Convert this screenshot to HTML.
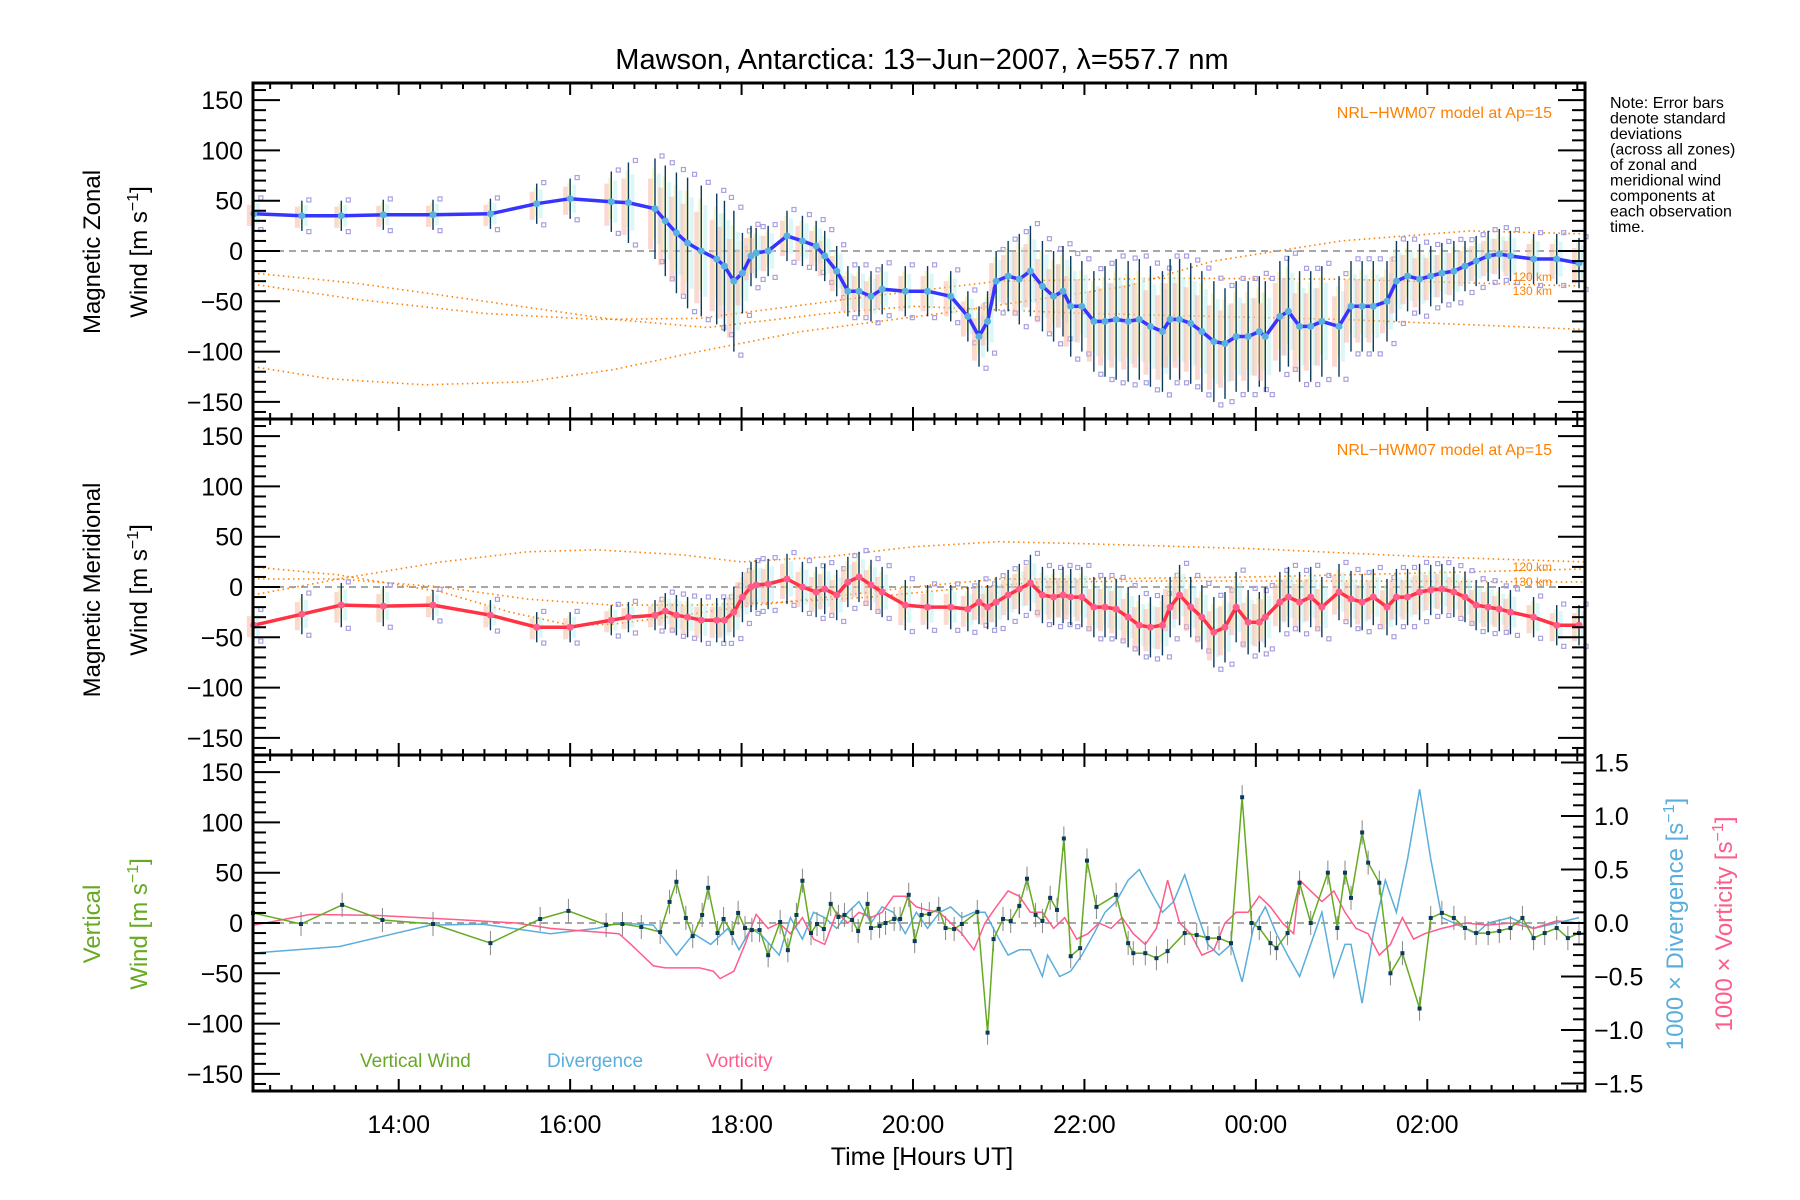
<!DOCTYPE html>
<html><head><meta charset="utf-8"><style>
html,body{margin:0;padding:0;background:#fff;}
svg{display:block;font-family:"Liberation Sans",sans-serif;}
</style></head><body>
<svg id="chart" width="1800" height="1200" viewBox="0 0 1800 1200" xmlns="http://www.w3.org/2000/svg">
<rect width="1800" height="1200" fill="#fff"/>
<text x="922" y="69" font-size="29" text-anchor="middle" fill="#000">Mawson, Antarctica: 13−Jun−2007, λ=557.7 nm</text>
<g id="plots"></g>
<text transform="translate(100,252) rotate(-90)" font-size="24" text-anchor="middle">Magnetic Zonal</text>
<text transform="translate(147,252) rotate(-90)" font-size="24" text-anchor="middle">Wind [m s<tspan dy="-9" font-size="16">−1</tspan><tspan dy="9">]</tspan></text>
<text transform="translate(100,590) rotate(-90)" font-size="24" text-anchor="middle">Magnetic Meridional</text>
<text transform="translate(147,590) rotate(-90)" font-size="24" text-anchor="middle">Wind [m s<tspan dy="-9" font-size="16">−1</tspan><tspan dy="9">]</tspan></text>
<text transform="translate(100,924) rotate(-90)" font-size="24" text-anchor="middle" fill="#66aa22">Vertical</text>
<text transform="translate(147,924) rotate(-90)" font-size="24" text-anchor="middle" fill="#66aa22">Wind [m s<tspan dy="-9" font-size="16">−1</tspan><tspan dy="9">]</tspan></text>
<text transform="translate(1683,924) rotate(-90)" font-size="24" text-anchor="middle" fill="#5aaedc">1000 × Divergence [s<tspan dy="-9" font-size="16">−1</tspan><tspan dy="9">]</tspan></text>
<text transform="translate(1732,924) rotate(-90)" font-size="24" text-anchor="middle" fill="#ff5c8a">1000 × Vorticity [s<tspan dy="-9" font-size="16">−1</tspan><tspan dy="9">]</tspan></text>
<text x="922" y="1165" font-size="25" text-anchor="middle">Time [Hours UT]</text>
<g font-size="16" fill="#000">
<text x="1610" y="108">Note: Error bars</text>
<text x="1610" y="123.5">denote standard</text>
<text x="1610" y="139">deviations</text>
<text x="1610" y="154.5">(across all zones)</text>
<text x="1610" y="170">of zonal and</text>
<text x="1610" y="185.5">meridional wind</text>
<text x="1610" y="201">components at</text>
<text x="1610" y="216.5">each observation</text>
<text x="1610" y="232">time.</text>
</g>
<text x="1552" y="118" font-size="16" text-anchor="end" fill="#ff8000">NRL−HWM07 model at Ap=15</text>
<text x="1552" y="455" font-size="16" text-anchor="end" fill="#ff8000">NRL−HWM07 model at Ap=15</text>
<text x="1552" y="281" font-size="12" text-anchor="end" fill="#ff8000">120 km</text>
<text x="1552" y="295" font-size="12" text-anchor="end" fill="#ff8000">130 km</text>
<text x="1552" y="571" font-size="12" text-anchor="end" fill="#ff8000">120 km</text>
<text x="1552" y="586" font-size="12" text-anchor="end" fill="#ff8000">130 km</text>
<text x="360" y="1067" font-size="19" fill="#66aa22">Vertical Wind</text>
<text x="547" y="1067" font-size="19" fill="#5aaedc">Divergence</text>
<text x="706" y="1067" font-size="19" fill="#ff5c8a">Vorticity</text>
</svg>
<script>
const windTimes=[12.31,12.87,13.33,13.82,14.40,15.07,15.61,16.00,16.48,16.68,16.99,17.11,17.24,17.37,17.53,17.71,17.80,17.91,18.01,18.11,18.17,18.31,18.53,18.71,18.87,18.97,19.11,19.24,19.37,19.51,19.64,19.91,20.17,20.44,20.64,20.77,20.87,20.97,21.11,21.24,21.37,21.51,21.64,21.75,21.84,21.97,22.11,22.24,22.37,22.51,22.64,22.77,22.91,23.00,23.11,23.24,23.37,23.51,23.64,23.77,23.91,24.04,24.11,24.28,24.38,24.51,24.64,24.77,24.97,25.11,25.24,25.37,25.53,25.64,25.77,25.91,26.04,26.17,26.31,26.44,26.57,26.71,26.84,26.97,27.24,27.51,27.77];
const zonalValues=[37,35,35,36,36,37,47,52,49,48,42,30,18,8,0,-8,-15,-30,-22,-5,-2,0,15,10,5,-5,-20,-40,-40,-45,-38,-40,-40,-45,-65,-85,-70,-30,-25,-28,-20,-35,-45,-40,-55,-55,-70,-70,-68,-70,-68,-75,-80,-68,-68,-72,-80,-90,-92,-85,-85,-80,-85,-65,-60,-75,-75,-70,-75,-55,-55,-55,-50,-30,-25,-28,-25,-22,-20,-15,-10,-5,-3,-5,-8,-8,-12];
const zonalErrors=[15,15,15,15,15,15,20,20,30,40,50,55,60,65,65,65,65,70,40,30,25,25,25,25,25,25,25,25,25,25,25,25,25,25,25,30,30,30,35,45,45,45,45,45,50,45,50,55,60,60,60,60,60,60,60,60,60,60,55,55,55,55,55,55,55,55,55,55,50,45,45,45,40,40,35,35,30,30,30,25,25,25,25,25,25,25,25];
const meridValues=[-38,-27,-18,-19,-18,-28,-40,-40,-33,-30,-28,-24,-28,-30,-33,-33,-33,-25,-10,0,2,3,8,0,-5,-2,-8,5,10,2,-5,-18,-20,-20,-22,-15,-20,-15,-8,-2,4,-8,-10,-8,-10,-10,-20,-20,-22,-30,-38,-40,-38,-20,-8,-20,-30,-45,-40,-20,-35,-35,-30,-15,-10,-15,-10,-20,-5,-12,-15,-10,-20,-10,-10,-5,-3,-2,-5,-10,-18,-20,-22,-25,-30,-38,-38];
const meridErrors=[15,20,22,20,15,15,15,15,15,15,15,18,20,20,22,22,22,25,25,25,25,25,25,25,25,25,25,25,25,25,25,25,22,22,22,22,22,25,25,25,28,28,28,28,28,30,30,30,30,30,30,30,30,30,30,30,32,35,35,35,32,30,30,30,30,30,30,30,28,28,28,28,28,28,28,28,25,25,25,25,25,25,22,22,20,20,20];
const zModel1T=[12.3,13.5,15,16.5,17.6,19,20,22,25,27.84];
const zModel1V=[-22,-32,-50,-68,-76,-62,-55,-62,-68,-78];
const zModel2T=[12.3,13.5,15,16.3,17.5,19.5,21,23,25,27.84];
const zModel2V=[-33,-48,-62,-68,-67,-45,-30,-27,-28,-35];
const zModel3T=[12.3,13.2,14.3,15.5,16.5,17.5,18.7,20.5,22.5,23.5,25,26.5,27.84];
const zModel3V=[-115,-127,-133,-130,-118,-100,-80,-60,-35,-10,10,20,17];
const mModel1T=[12.3,13.3,14.5,15.3,16,16.5,17.3,18,19,20,21,22,24,26,27.84];
const mModel1V=[20,12,-5,-25,-38,-37,-28,-20,-10,0,8,8,10,14,18];
const mModel2T=[12.3,13.3,14.5,15.5,16.5,17.5,18.5,19.5,20.5,21.5,23,25,27.84];
const mModel2V=[8,8,0,-12,-18,-18,-15,-10,-2,5,6,6,5];
const mModel3T=[12.3,13.3,14.5,15.5,16.3,17.3,18,19,20,21,22,24,26,27.84];
const mModel3V=[-8,8,25,35,37,32,25,30,40,45,43,38,30,25];
const vertTimes=[12.3,12.86,13.34,13.81,14.40,15.07,15.65,15.98,16.42,16.61,16.83,17.05,17.16,17.24,17.35,17.43,17.54,17.61,17.72,17.79,17.89,17.96,18.04,18.12,18.21,18.31,18.45,18.54,18.64,18.71,18.81,18.88,18.96,19.04,19.13,19.20,19.29,19.36,19.47,19.51,19.61,19.68,19.78,19.85,19.95,20.02,20.10,20.19,20.30,20.38,20.48,20.57,20.75,20.87,20.94,21.05,21.14,21.24,21.33,21.43,21.51,21.60,21.68,21.76,21.84,21.95,22.03,22.14,22.37,22.51,22.57,22.71,22.84,22.97,23.17,23.31,23.44,23.57,23.71,23.84,23.95,24.04,24.17,24.24,24.37,24.51,24.64,24.84,24.95,25.04,25.11,25.24,25.31,25.44,25.57,25.71,25.91,26.04,26.17,26.31,26.44,26.57,26.71,26.84,26.97,27.11,27.24,27.37,27.51,27.64,27.77];
const vertValues=[10,-1,18,3,-1,-20,4,12,-2,-1,-4,-9,21,41,5,-13,8,35,-10,4,-10,10,-5,-7,-7,-32,1,-27,8,42,-10,-1,-6,19,6,8,3,-8,19,-5,-3,0,4,4,28,-18,8,9,14,-5,-6,-1,11,-109,-16,4,2,17,44,8,2,25,13,84,-33,-25,62,16,28,-20,-30,-30,-35,-28,-10,-12,-15,-15,-20,125,0,-5,-20,-25,-10,40,0,50,-5,50,25,90,60,40,-50,-30,-85,5,10,5,-5,-10,-10,-8,-5,5,-15,-10,-5,-15,-10];
const divTimes=[12.31,13.31,14.37,14.97,15.77,16.31,16.57,16.97,17.24,17.44,17.64,17.84,17.97,18.11,18.24,18.44,18.57,18.71,18.84,18.97,19.11,19.24,19.37,19.51,19.64,19.77,19.91,20.04,20.17,20.31,20.44,20.57,20.71,20.84,20.97,21.11,21.24,21.37,21.51,21.57,21.71,21.84,21.97,22.11,22.24,22.37,22.51,22.64,22.77,22.91,23.04,23.17,23.31,23.44,23.57,23.71,23.84,23.97,24.11,24.24,24.37,24.51,24.64,24.77,24.91,25.04,25.11,25.24,25.37,25.51,25.64,25.77,25.91,26.04,26.17,26.31,26.44,26.57,26.71,26.97,27.24,27.51,27.77];
const divValues=[-0.28,-0.22,-0.02,-0.01,-0.1,-0.05,0,-0.02,-0.3,-0.1,-0.2,-0.05,-0.25,-0.05,-0.12,-0.3,0.05,-0.15,0.1,0.05,-0.05,0.1,0.2,0.0,0.15,0.1,-0.1,0.1,-0.05,0.1,0.15,0.05,0.1,0.1,-0.1,-0.3,-0.25,-0.25,-0.5,-0.3,-0.5,-0.45,-0.3,-0.1,0.1,0.2,0.4,0.5,0.3,0.1,0.2,0.45,0.1,-0.2,-0.3,-0.2,-0.55,-0.05,0.15,-0.1,-0.3,-0.5,-0.2,0.1,-0.5,-0.2,-0.2,-0.75,-0.1,0.4,0.1,0.6,1.25,0.6,0.05,0.0,-0.05,-0.1,0.0,0.05,-0.05,0.0,0.05];
const vortTimes=[12.31,12.97,13.77,14.71,15.37,15.77,16.57,16.71,16.97,17.11,17.51,17.67,17.75,17.91,18.04,18.17,18.31,18.44,18.57,18.71,18.84,18.97,19.11,19.24,19.37,19.51,19.64,19.77,19.91,20.04,20.17,20.31,20.44,20.57,20.71,20.84,20.97,21.11,21.24,21.37,21.51,21.64,21.77,21.91,22.04,22.17,22.31,22.44,22.57,22.71,22.84,22.97,23.11,23.24,23.37,23.51,23.64,23.77,23.91,24.04,24.17,24.31,24.44,24.51,24.64,24.77,24.91,25.04,25.17,25.31,25.44,25.57,25.71,25.84,25.97,26.17,26.44,26.71,26.97,27.24,27.51,27.77];
const vortValues=[-0.02,0.08,0.07,0.03,0.0,-0.05,-0.1,-0.2,-0.4,-0.42,-0.42,-0.45,-0.52,-0.45,-0.2,0.08,-0.05,0.0,-0.1,0.05,-0.15,-0.2,0.1,0.0,0.1,0.05,0.1,0.25,0.25,0.15,0.12,0.1,0.0,-0.1,-0.25,0.0,0.15,0.3,0.25,0.1,0.1,-0.05,0.05,-0.15,-0.1,0.0,-0.05,0.05,-0.1,-0.2,-0.05,0.4,0.0,-0.1,-0.3,-0.25,0.0,0.1,0.1,0.25,0.15,0.0,-0.1,0.4,0.3,0.2,0.3,0.1,-0.05,-0.1,-0.3,-0.2,0.05,-0.15,-0.1,-0.05,0.0,-0.02,0.0,-0.05,0.02,0.0];
const windTicks=[150,100,50,0,-50,-100,-150];
const ratioTicks=[1.5,1.0,0.5,0.0,-0.5,-1.0,-1.5];
const hourTicks=[14,16,18,20,22,24,26];
const hourLabels=["14:00","16:00","18:00","20:00","22:00","00:00","02:00"];

const NS="http://www.w3.org/2000/svg";
const X0=253,X1=1585,T0=12.3,T1=27.84;
const panels=[{top:83,bot:419},{top:419,bot:755},{top:755,bot:1091}];
const YR=167;
function xs(t){return X0+(t-T0)/(T1-T0)*(X1-X0);}
function ys(p,v){const c=(p.top+p.bot)/2;return c-v*(p.bot-p.top)/(2*YR);}
function yr(p,v){const c=(p.top+p.bot)/2;return c-v*(p.bot-p.top)/2/1.57;}
const root=document.getElementById('plots');
function mk(tag,attrs,parent){const e=document.createElementNS(NS,tag);for(const k in attrs)e.setAttribute(k,attrs[k]);(parent||root).appendChild(e);return e;}
function poly(pts,attrs,parent){return mk('polyline',Object.assign({points:pts.map(p=>p[0].toFixed(1)+','+p[1].toFixed(1)).join(' '),fill:'none'},attrs),parent);}

const panelNames=['zonal-panel','meridional-panel','vertical-panel'];
const gs=panels.map((p,i)=>{const g=mk('g',{});


return g;});

panels.forEach((p,i)=>{const l=mk('line',{x1:X0,x2:X1,y1:ys(p,0),y2:ys(p,0),stroke:'#888','stroke-width':1.5,'stroke-dasharray':'7,5'},gs[i]);

});

function model(pi,T,V,name){const p=panels[pi];const l=poly(T.map((t,i)=>[xs(t),ys(p,V[i])]),{stroke:'#ff8000','stroke-width':1.6,'stroke-dasharray':'1.5,3.5'},gs[pi]);

}
model(0,zModel1T,zModel1V,'zonal-model-curve');model(0,zModel2T,zModel2V,'zonal-model-curve');model(0,zModel3T,zModel3V,'zonal-model-curve');
model(1,mModel1T,mModel1V,'meridional-model-curve');model(1,mModel2T,mModel2V,'meridional-model-curve');model(1,mModel3T,mModel3V,'meridional-model-curve');

function windSeries(pi,vals,errs,lineCol,dotCol,name){
 const p=panels[pi];const g=gs[pi];
 windTimes.forEach((t,i)=>{const x=xs(t),v=vals[i],e=errs[i];
  const b1=mk('rect',{x:x-7,y:ys(p,v+e*0.6),width:5,height:ys(p,v-e*0.8)-ys(p,v+e*0.6),fill:'#f8b4a4',opacity:0.5},g);
  
  
  const b2=mk('rect',{x:x-3,y:ys(p,v+e*0.8),width:4,height:ys(p,v-e*0.6)-ys(p,v+e*0.8),fill:'#f2f2a8',opacity:0.6},g);
  
  
  const b3=mk('rect',{x:x+2,y:ys(p,v+e*0.7),width:4,height:ys(p,v-e*0.7)-ys(p,v+e*0.7),fill:'#b8f0f0',opacity:0.5},g);
  
  
  [v+e*1.05,v-e*1.05].forEach(s=>{const q=mk('rect',{x:x+5,y:ys(p,s)-2,width:4,height:4,fill:'none',stroke:'#a8a0e0','stroke-width':1.2},g);
   
   });
  const eb=mk('line',{x1:x,x2:x,y1:ys(p,v+e),y2:ys(p,v-e),stroke:'#0b3a5c','stroke-width':1.4},g);
  
  
 });
 const l=poly(windTimes.map((t,i)=>[xs(t),ys(p,vals[i])]),{stroke:lineCol,'stroke-width':3.5,'stroke-linejoin':'round'},g);
 
 
 windTimes.forEach((t,i)=>{const c=mk('circle',{cx:xs(t),cy:ys(p,vals[i]),r:3.5,fill:dotCol},g);
  
  });
}
windSeries(0,zonalValues,zonalErrors,'#3535ff','#5ab0e0','zonal-wind-line');
windSeries(1,meridValues,meridErrors,'#ff3344','#ff5c8a','meridional-wind-line');

const pb=panels[2],gb=gs[2];
const dl=poly(divTimes.map((t,i)=>[xs(t),yr(pb,divValues[i])]),{stroke:'#5aaedc','stroke-width':1.5},gb);


const vl=poly(vortTimes.map((t,i)=>[xs(t),yr(pb,vortValues[i])]),{stroke:'#ff5c8a','stroke-width':1.5},gb);


vertTimes.forEach((t,i)=>{const e=mk('line',{x1:xs(t),x2:xs(t),y1:ys(pb,vertValues[i]+12),y2:ys(pb,vertValues[i]-12),stroke:'#888','stroke-width':1},gb);
 
 });
const gl=poly(vertTimes.map((t,i)=>[xs(t),ys(pb,vertValues[i])]),{stroke:'#66aa22','stroke-width':1.5},gb);


vertTimes.forEach((t,i)=>{const r=mk('rect',{x:xs(t)-2,y:ys(pb,vertValues[i])-2,width:4,height:4,fill:'#0b3a5c'},gb);
 
 });

const ax=mk('g',{stroke:'#000'});


panels.forEach((p,pi)=>{
 const fr=mk('rect',{x:X0,y:p.top,width:X1-X0,height:p.bot-p.top,fill:'none','stroke-width':3},ax);
 
 
 for(let t=12.5;t<=T1;t+=0.25){const major=Math.abs(t/2-Math.round(t/2))<1e-6;const L=major?12:6;const x=xs(t);
  mk('line',{x1:x,x2:x,y1:p.top,y2:p.top+L,'stroke-width':2},ax);
  mk('line',{x1:x,x2:x,y1:p.bot,y2:p.bot-L,'stroke-width':2},ax);}
 for(let v=-160;v<=160;v+=10){const major=v%50===0;const L=major?27:13;const y=ys(p,v);
  mk('line',{x1:X0,x2:X0+L,y1:y,y2:y,'stroke-width':2},ax);
  if(pi<2)mk('line',{x1:X1,x2:X1-L,y1:y,y2:y,'stroke-width':2},ax);}
 windTicks.forEach(v=>{const tx=mk('text',{x:243,y:ys(p,v)+9,'font-size':25,'text-anchor':'end',stroke:'none',fill:'#000'},ax);
  
  
  tx.textContent=(v<0?'−':'')+Math.abs(v);});
});
for(let k=-15;k<=15;k++){const v=k/10;const major=k%5===0;const L=major?24:12;const y=yr(pb,v);
 mk('line',{x1:X1,x2:X1-L,y1:y,y2:y,'stroke-width':2},ax);}
ratioTicks.forEach(v=>{const tx=mk('text',{x:1594,y:yr(pb,v)+9,'font-size':25,stroke:'none',fill:'#000'},ax);
 
 
 tx.textContent=(v<0?'−':'')+Math.abs(v).toFixed(1);});
hourTicks.forEach((h,i)=>{const tx=mk('text',{x:xs(h),y:1133,'font-size':25,'text-anchor':'middle',stroke:'none',fill:'#000'},ax);
 
 
 tx.textContent=hourLabels[i];});
</script>
</body></html>
